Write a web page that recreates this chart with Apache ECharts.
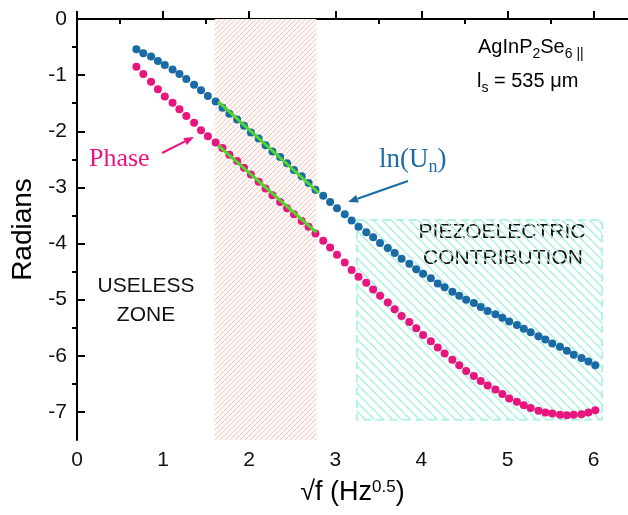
<!DOCTYPE html>
<html>
<head>
<meta charset="utf-8">
<script src="https://cdn.jsdelivr.net/npm/echarts@6/dist/echarts.min.js"></script>
<style>
  html, body { margin: 0; padding: 0; background: #fff; }
  #main { width: 628px; height: 515px; }
</style>
</head>
<body>
<div id="main"></div>
<script>
// sqrt(f) values
var sqrtF = [0.69, 0.77, 0.86, 0.94, 1.02, 1.11, 1.19, 1.27, 1.36, 1.44, 1.52, 1.61, 1.69,
  1.77, 1.86, 1.94, 2.02, 2.11, 2.19, 2.27, 2.36, 2.44, 2.52, 2.61, 2.69, 2.77, 2.86,
  2.94, 3.02, 3.11, 3.19, 3.27, 3.36, 3.44, 3.52, 3.61, 3.69, 3.77, 3.86, 3.94, 4.02,
  4.11, 4.19, 4.27, 4.36, 4.44, 4.52, 4.61, 4.69, 4.77, 4.86, 4.94, 5.02, 5.11, 5.19,
  5.27, 5.36, 5.44, 5.52, 5.61, 5.69, 5.77, 5.86, 5.94, 6.02];
var lnUn = [-0.54, -0.61, -0.67, -0.75, -0.82, -0.90, -0.98, -1.07, -1.17, -1.27, -1.37, -1.47, -1.58,
  -1.69, -1.79, -1.90, -2.02, -2.13, -2.25, -2.36, -2.46, -2.57, -2.69, -2.80, -2.92, -3.04, -3.15,
  -3.26, -3.37, -3.48, -3.59, -3.70, -3.80, -3.89, -3.99, -4.08, -4.17, -4.27, -4.36, -4.46, -4.54,
  -4.62, -4.71, -4.78, -4.86, -4.93, -5.00, -5.06, -5.13, -5.20, -5.26, -5.32, -5.39, -5.45, -5.52,
  -5.58, -5.65, -5.71, -5.78, -5.84, -5.91, -5.98, -6.04, -6.10, -6.17];
var phase = [-0.85, -0.98, -1.12, -1.25, -1.38, -1.49, -1.61, -1.73, -1.85, -1.98, -2.09, -2.20, -2.30,
  -2.42, -2.53, -2.65, -2.77, -2.90, -3.02, -3.14, -3.26, -3.37, -3.48, -3.60, -3.70, -3.82, -3.95,
  -4.07, -4.20, -4.34, -4.47, -4.59, -4.70, -4.82, -4.93, -5.05, -5.17, -5.29, -5.40, -5.51, -5.63,
  -5.74, -5.85, -5.96, -6.07, -6.17, -6.27, -6.36, -6.45, -6.53, -6.60, -6.68, -6.76, -6.82, -6.88,
  -6.93, -6.98, -7.01, -7.03, -7.05, -7.06, -7.05, -7.04, -7.01, -6.97];

// linear fits in the linear region
var fitUnX = [1.64, 2.81];
var fitUnY = [-1.47, -3.10];
var fitPhX = [1.64, 2.78];
var fitPhY = [-2.25, -3.80];

// shaded regions [x0, x1, y0, y1]
var linearRegion = [1.6, 2.78, 0, -7.5];
var piezoRegion = [3.25, 6.1, -3.58, -7.14];

var xTicks = [0, 1, 2, 3, 4, 5, 6];
var xMinor = [0.5, 1.5, 2.5, 3.5, 4.5, 5.5];
var yTicks = [0, -1, -2, -3, -4, -5, -6, -7];
var yMinor = [-0.5, -1.5, -2.5, -3.5, -4.5, -5.5, -6.5];

var blue = '#1a6aa6';
var pink = '#e8157f';
var green = '#4fd62a';

function hatch(size, dir, line, bg, w) {
  var c = document.createElement('canvas');
  c.width = size; c.height = size;
  var ctx = c.getContext('2d');
  if (bg) { ctx.fillStyle = bg; ctx.fillRect(0, 0, size, size); }
  ctx.strokeStyle = line;
  ctx.lineWidth = w;
  ctx.beginPath();
  for (var k = -1; k <= 1; k++) {
    if (dir > 0) {
      ctx.moveTo(k * size, size); ctx.lineTo(k * size + size, 0);
    } else {
      ctx.moveTo(k * size, 0); ctx.lineTo(k * size + size, size);
    }
  }
  ctx.stroke();
  return c;
}

var sans = 'Liberation Sans';
var serif = 'Liberation Serif';

var myChart = echarts.init(document.getElementById('main'));

function pairs(xa, ya) {
  return xa.map(function (x, i) { return [x, ya[i]]; });
}

var axisBase = {
  type: 'value',
  axisLine: { show: true, lineStyle: { color: '#000', width: 2 } },
  splitLine: { show: false }
};

myChart.setOption({
  animation: false,
  grid: { left: 77, top: 19, right: -1, bottom: 75 },
  xAxis: [
    Object.assign({}, axisBase, {
      min: 0, max: 6.4,
      name: '√f (Hz{sup|0.5})',
      nameLocation: 'middle',
      nameGap: 39,
      nameTextStyle: {
        fontFamily: sans, fontSize: 27, color: '#000',
        rich: { sup: { fontFamily: sans, fontSize: 17, color: '#000', verticalAlign: 'top', lineHeight: 16 } }
      },
      axisTick: { inside: true, length: 8, lineStyle: { width: 2, color: '#000' }, customValues: xTicks },
      axisLabel: { customValues: xTicks, margin: 10, fontFamily: sans, fontSize: 21, color: '#111' }
    }),
    Object.assign({}, axisBase, {
      min: 0, max: 6.4,
      axisLine: { show: false },
      axisTick: { inside: true, length: 5, lineStyle: { width: 2, color: '#000' }, customValues: xMinor },
      axisLabel: { show: false }
    }),
    Object.assign({}, axisBase, {
      min: 0, max: 6.4, position: 'top',
      axisTick: { show: false },
      axisLabel: { show: false }
    })
  ],
  yAxis: [
    Object.assign({}, axisBase, {
      min: -7.5, max: 0,
      name: 'Radians',
      nameLocation: 'middle',
      nameGap: 39,
      nameTextStyle: { fontFamily: sans, fontSize: 28, color: '#000' },
      axisTick: { inside: true, length: 8, lineStyle: { width: 2, color: '#000' }, customValues: yTicks },
      axisLabel: { customValues: yTicks, margin: 10, fontFamily: sans, fontSize: 21, color: '#111' }
    }),
    Object.assign({}, axisBase, {
      min: -7.5, max: 0,
      axisLine: { show: false },
      axisTick: { inside: true, length: 5, lineStyle: { width: 2, color: '#000' }, customValues: yMinor },
      axisLabel: { show: false }
    })
  ],
  series: [
    {
      type: 'line', data: [], z: 1, silent: true,
      markArea: {
        silent: true,
        data: [
          [{ xAxis: linearRegion[0], yAxis: linearRegion[2],
             itemStyle: { color: { image: hatch(5, 1, '#f3c6c2', '#fef8f7', 1), repeat: 'repeat' } } },
           { xAxis: linearRegion[1], yAxis: linearRegion[3] }],
          [{ xAxis: piezoRegion[0], yAxis: piezoRegion[2],
             itemStyle: { color: { image: hatch(9, -1, '#b3f1e2', null, 1.6), repeat: 'repeat' },
               borderColor: '#b3f1e2', borderWidth: 2, borderType: [8, 5] } },
           { xAxis: piezoRegion[1], yAxis: piezoRegion[3] }]
        ]
      }
    },
    {
      name: 'ln(Un)', type: 'scatter', data: pairs(sqrtF, lnUn), z: 3,
      symbolSize: 8, itemStyle: { color: blue, opacity: 1 }
    },
    {
      name: 'Phase', type: 'scatter', data: pairs(sqrtF, phase), z: 3,
      symbolSize: 8, itemStyle: { color: pink, opacity: 1 }
    },
    {
      type: 'line', data: pairs(fitUnX, fitUnY), z: 5, showSymbol: false,
      lineStyle: { color: green, width: 3 }
    },
    {
      type: 'line', data: pairs(fitPhX, fitPhY), z: 5, showSymbol: false,
      lineStyle: { color: green, width: 3 }
    }
  ],
  graphic: [
    { type: 'text', x: 478, y: 33, style: {
        text: 'AgInP{sub|2}Se{sub|6 ||}', fill: '#000', font: '20px ' + sans, verticalAlign: 'top', lineHeight: 28,
        rich: { sub: { fontFamily: sans, fontSize: 14, lineHeight: 12, verticalAlign: 'bottom' } }
      } },
    { type: 'text', x: 477, y: 67, style: {
        text: 'l{sub|s} = 535 μm', fill: '#000', font: '20px ' + sans, verticalAlign: 'top', lineHeight: 28,
        rich: { sub: { fontFamily: sans, fontSize: 14, lineHeight: 12, verticalAlign: 'bottom' } }
      } },
    { type: 'text', x: 379, y: 144, style: {
        text: 'ln(U{sub|n})', fill: blue, font: '27px ' + serif, verticalAlign: 'top', lineHeight: 32,
        rich: { sub: { fontFamily: serif, fontSize: 18, lineHeight: 14, verticalAlign: 'bottom' } }
      } },
    { type: 'text', x: 89, y: 159, style: {
        text: 'Phase', fill: pink, font: '26px ' + serif, verticalAlign: 'middle' } },
    { type: 'text', x: 146, y: 286, style: {
        text: 'USELESS', fill: '#111', font: '21px ' + sans, align: 'center', verticalAlign: 'middle' } },
    { type: 'text', x: 146, y: 315, style: {
        text: 'ZONE', fill: '#111', font: '21px ' + sans, align: 'center', verticalAlign: 'middle' } },
    { type: 'text', x: 265, y: 388, style: {
        text: 'LINEAR', fill: '#111', font: '21px ' + sans, align: 'center', verticalAlign: 'middle' } },
    { type: 'text', x: 265, y: 416, style: {
        text: 'REGION', fill: '#111', font: '21px ' + sans, align: 'center', verticalAlign: 'middle' } },
    { type: 'text', x: 502, y: 232, style: {
        text: 'PIEZOELECTRIC', fill: '#111', font: '21px ' + sans, align: 'center', verticalAlign: 'middle' } },
    { type: 'text', x: 503, y: 258, style: {
        text: 'CONTRIBUTION', fill: '#111', font: '21px ' + sans, align: 'center', verticalAlign: 'middle' } }
  ]
});

// annotation arrows
function arrow(x1, y1, x2, y2, color) {
  var dx = x2 - x1, dy = y2 - y1;
  var len = Math.sqrt(dx * dx + dy * dy);
  var ux = dx / len, uy = dy / len;
  var hl = 10, hw = 4;
  var bx = x2 - ux * hl, by = y2 - uy * hl;
  return [
    { type: 'line', shape: { x1: x1, y1: y1, x2: bx, y2: by }, style: { stroke: color, lineWidth: 2 }, z: 10 },
    { type: 'polygon', shape: { points: [[x2, y2], [bx - uy * hw, by + ux * hw], [bx + uy * hw, by - ux * hw]] },
      style: { fill: color }, z: 10 }
  ];
}
var extra = [].concat(arrow(162, 153, 194, 137, pink), arrow(408, 181, 348, 202, blue));
var g = myChart.getOption().graphic[0].elements.slice();
myChart.setOption({ graphic: g.concat(extra) });
</script>
</body>
</html>
